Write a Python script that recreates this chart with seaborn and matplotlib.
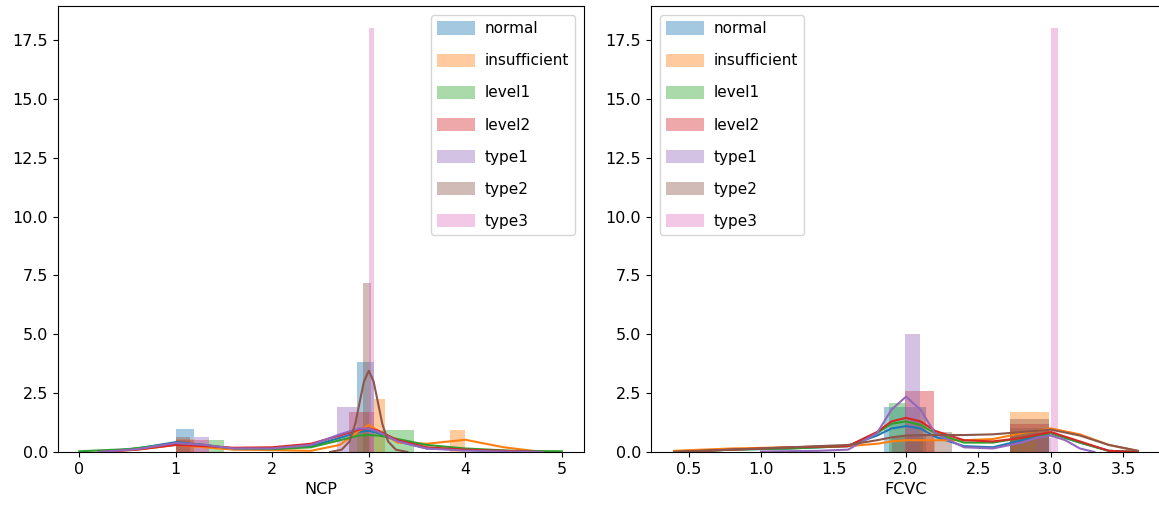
import matplotlib
matplotlib.use("Agg")
import matplotlib.pyplot as plt
import seaborn as sns
import numpy as np
from matplotlib.patches import Patch

groups = ["normal", "insufficient", "level1", "level2", "type1", "type2", "type3"]
colors = sns.color_palette("tab10", 7)

# ---- NCP histogram bars: (left edge, right edge, density) ----
ncp_bars = {
    "normal":       [(2.88, 3.05, 3.83), (1.00, 1.19, 0.98)],
    "insufficient": [(3.05, 3.17, 2.26), (3.84, 4.00, 0.95), (1.00, 1.19, 0.55)],
    "level1":       [(3.14, 3.47, 0.95), (1.34, 1.50, 0.50), (2.80, 3.14, 0.80)],
    "level2":       [(2.80, 3.05, 1.70), (1.00, 1.34, 0.50)],
    "type1":        [(2.67, 2.88, 1.92), (1.19, 1.34, 0.64)],
    "type2":        [(2.94, 3.02, 7.20), (1.00, 1.15, 0.65)],
    "type3":        [(3.00, 3.05, 18.0)],
}

# ---- NCP density curves ----
ncp_kde_x = [0.2, 0.6, 1.0, 1.3, 1.6, 2.0, 2.4, 2.7, 2.9, 3.0, 3.1, 3.3, 3.6, 4.0, 4.4, 4.8]
ncp_kde = {
    "normal":       (ncp_kde_x, [0.0, 0.15, 0.42, 0.30, 0.12, 0.12, 0.25, 0.60, 0.85, 0.90, 0.80, 0.45, 0.15, 0.10, 0.04, 0.0]),
    "insufficient": (ncp_kde_x, [0.0, 0.10, 0.30, 0.20, 0.10, 0.08, 0.05, 0.30, 0.90, 1.15, 0.90, 0.40, 0.35, 0.52, 0.20, 0.0]),
    "level1":       ([0.0, 0.5, 1.0, 1.3, 1.6, 2.0, 2.4, 2.7, 2.9, 3.0, 3.1, 3.3, 3.6, 4.0, 4.5, 5.0],
                     [0.03, 0.12, 0.35, 0.30, 0.15, 0.12, 0.20, 0.50, 0.70, 0.72, 0.70, 0.55, 0.30, 0.15, 0.05, 0.03]),
    "level2":       (ncp_kde_x, [0.0, 0.10, 0.30, 0.25, 0.18, 0.20, 0.35, 0.70, 0.95, 1.00, 0.90, 0.50, 0.20, 0.10, 0.05, 0.0]),
    "type1":        (ncp_kde_x, [0.0, 0.12, 0.38, 0.30, 0.15, 0.15, 0.30, 0.75, 1.00, 1.00, 0.85, 0.45, 0.15, 0.06, 0.02, 0.0]),
    "type2":        ([2.6, 2.72, 2.8, 2.86, 2.91, 2.95, 3.0, 3.05, 3.09, 3.14, 3.2, 3.28, 3.4],
                     [0.0, 0.10, 0.45, 1.20, 2.20, 3.00, 3.45, 3.00, 2.20, 1.20, 0.45, 0.10, 0.0]),
}

# ---- FCVC histogram bars ----
fcvc_bars = {
    "normal":       [(1.85, 2.14, 1.90), (2.72, 2.99, 1.00)],
    "insufficient": [(2.72, 2.99, 1.70), (2.00, 2.20, 0.45)],
    "level1":       [(1.88, 2.00, 2.08), (2.00, 2.12, 1.30), (2.72, 2.99, 0.80)],
    "level2":       [(1.99, 2.19, 2.60), (2.72, 2.99, 1.20)],
    "type1":        [(1.99, 2.10, 5.00), (2.90, 3.00, 0.60)],
    "type2":        [(2.19, 2.32, 0.85), (2.72, 2.99, 1.40), (1.90, 2.19, 0.70)],
    "type3":        [(3.00, 3.05, 18.0)],
}

# ---- FCVC density curves ----
fcvc_kde_x = [0.4, 0.8, 1.2, 1.6, 1.8, 1.9, 2.0, 2.1, 2.2, 2.4, 2.6, 2.8, 3.0, 3.2, 3.4, 3.6]
fcvc_kde = {
    "normal":       (fcvc_kde_x, [0.0, 0.10, 0.15, 0.25, 0.70, 1.00, 1.10, 1.00, 0.65, 0.25, 0.20, 0.50, 0.80, 0.40, 0.05, 0.0]),
    "insufficient": (fcvc_kde_x, [0.05, 0.15, 0.20, 0.25, 0.35, 0.45, 0.50, 0.50, 0.50, 0.50, 0.55, 0.80, 1.00, 0.75, 0.30, 0.05]),
    "level1":       (fcvc_kde_x, [0.0, 0.10, 0.15, 0.25, 0.80, 1.20, 1.30, 1.15, 0.80, 0.40, 0.40, 0.60, 0.80, 0.40, 0.05, 0.0]),
    "level2":       (fcvc_kde_x, [0.0, 0.10, 0.20, 0.25, 0.85, 1.30, 1.45, 1.30, 0.90, 0.50, 0.45, 0.60, 0.85, 0.45, 0.05, 0.0]),
    "type1":        ([1.0, 1.4, 1.6, 1.8, 1.9, 2.0, 2.1, 2.2, 2.4, 2.6, 2.8, 2.9, 3.0, 3.1, 3.2, 3.3],
                     [0.02, 0.05, 0.10, 0.80, 1.80, 2.35, 1.80, 0.80, 0.20, 0.15, 0.40, 0.60, 0.70, 0.50, 0.15, 0.0]),
    "type2":        (fcvc_kde_x, [0.0, 0.10, 0.20, 0.30, 0.50, 0.62, 0.70, 0.72, 0.72, 0.72, 0.75, 0.85, 0.95, 0.70, 0.30, 0.05]),
}

plt.rcParams["font.family"] = ["DejaVu Sans"]
fsize = 11.5
plt.rcParams["font.size"] = fsize

fig = plt.figure(figsize=(11.59, 5.19), dpi=100)
ax1 = fig.add_axes([58 / 1159, 67 / 519, 526 / 1159, 446 / 519])
ax2 = fig.add_axes([651 / 1159, 67 / 519, 510 / 1159, 446 / 519])


def draw(ax, bars, kdes, xlabel, xlim, xticks, legend_loc):
    for g, c in zip(groups, colors):
        for (l, r, h) in bars[g]:
            sns.histplot(x=[(l + r) / 2], weights=[h], bins=[l, r], color=c,
                         alpha=0.4, linewidth=0, ax=ax)
        if g in kdes:
            xs, ys = kdes[g]
            sns.lineplot(x=xs, y=ys, color=c, linewidth=1.5, ax=ax)
    ax.set_xlim(*xlim)
    ax.set_ylim(0, 18.95)
    ax.set_xticks(xticks)
    ax.set_yticks(np.arange(0, 18, 2.5))
    ax.set_xlabel(xlabel, fontsize=fsize)
    ax.set_ylabel("")
    ax.tick_params(labelsize=fsize)
    handles = [Patch(facecolor=c, alpha=0.4, label=g) for g, c in zip(groups, colors)]
    ax.legend(handles=handles, loc=legend_loc, fontsize=11, labelspacing=1.12,
              handleheight=0.95, handlelength=2.5, handletextpad=0.6,
              borderaxespad=0.6)


draw(ax1, ncp_bars, ncp_kde, "NCP", (-0.22, 5.23), [0, 1, 2, 3, 4, 5], "upper right")
draw(ax2, fcvc_bars, fcvc_kde, "FCVC", (0.24, 3.76), [0.5, 1.0, 1.5, 2.0, 2.5, 3.0, 3.5], "upper left")

fig.savefig("out.png", dpi=100)
